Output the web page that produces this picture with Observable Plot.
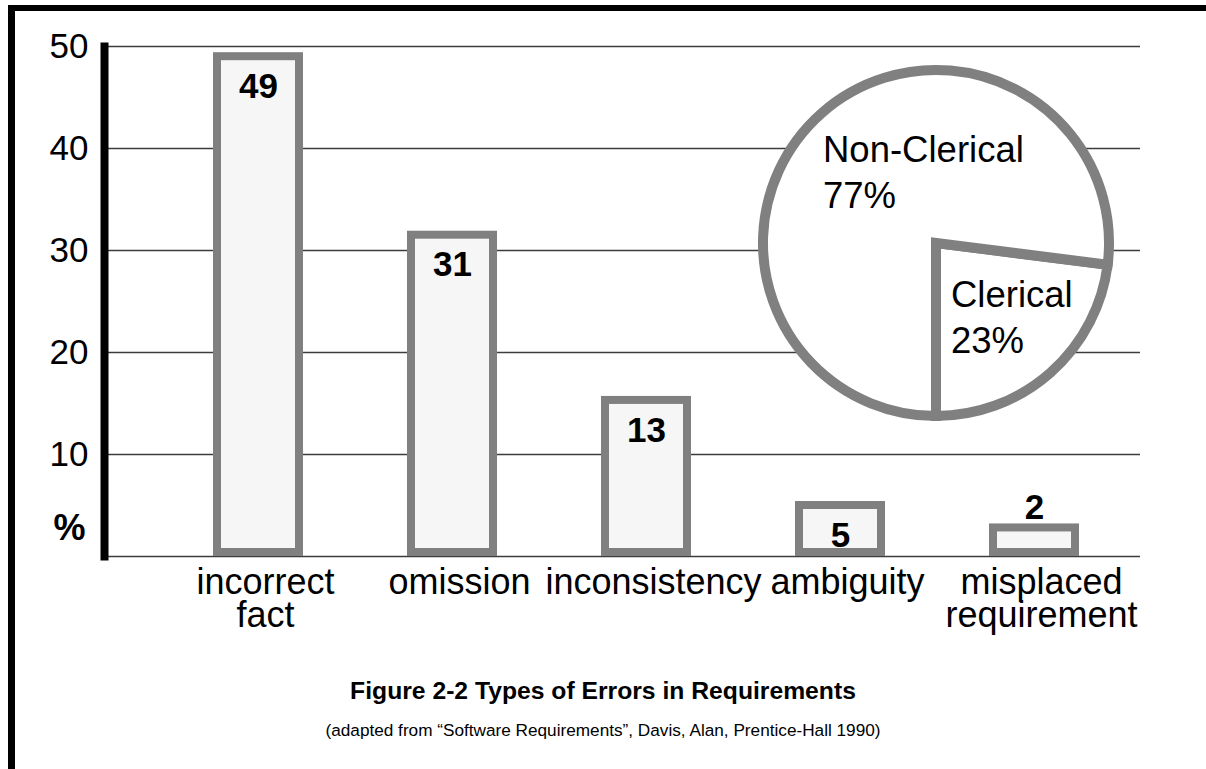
<!DOCTYPE html>
<html>
<head>
<meta charset="utf-8">
<script src="https://cdn.jsdelivr.net/npm/d3@7"></script>
<script src="https://cdn.jsdelivr.net/npm/@observablehq/plot@0.6"></script>
<style>
html, body { margin: 0; padding: 0; background: #fff; overflow: hidden; }
body { width: 1206px; height: 769px; position: relative; font-family: "Liberation Sans", Arial, sans-serif; color: #000; }
#chart { position: absolute; left: 0; top: 0; }
#border { position: absolute; left: 8px; top: 5px; right: 0; bottom: 0; border-top: 6px solid #000; border-left: 7px solid #000; pointer-events: none; }
#title { position: absolute; left: 0; width: 1206px; top: 677px; text-align: center; font-weight: bold; font-size: 24.7px; line-height: 28px; }
#caption { position: absolute; left: 0; width: 1206px; top: 719.5px; text-align: center; font-size: 17.2px; line-height: 20px; }
</style>
</head>
<body>
<div id="chart"></div>
<div id="border"></div>
<div id="title"></div>
<div id="caption"></div>
<script>
// ---- data ----
const categories = ["incorrect fact", "omission", "inconsistency", "ambiguity", "misplaced requirement"];
const tickLabels = ["incorrect\nfact", "omission", "inconsistency", "ambiguity", "misplaced\nrequirement"];
const barHeights = [49, 31.5, 15.3, 5.0, 2.8];          // bar heights as drawn in the figure
const valueLabels = ["49", "31", "13", "5", "2"];       // printed values
const yTicks = [10, 20, 30, 40, 50];
const gridTicks = [0, 10, 20, 30, 40, 50];
const pieLabels = ["Clerical", "Non-Clerical"];
const pieValues = [23, 77];
const titleText = "Figure 2-2 Types of Errors in Requirements";
const captionText = "(adapted from \u201cSoftware Requirements\u201d, Davis, Alan, Prentice-Hall 1990)";

// ---- layout ----
const PIE = { cx: 936, cy: 243, r: 173 };
const PIE_LABEL_OFFSETS = [{ dx: 15, dy: 64 }, { dx: -113, dy: -81 }];
const FONT = "'Liberation Sans', Arial, Helvetica, sans-serif";

const rows = categories.map((c, i) => ({ category: c, label: tickLabels[i], height: barHeights[i], value: valueLabels[i] }));
const pieData = pieLabels.map((l, i) => ({ label: l, value: pieValues[i], pct: pieValues[i] + "%" }));

function pieMark(index, scales, values, dimensions) {
  const g = d3.create("svg:g").attr("transform", `translate(${PIE.cx},${PIE.cy})`);
  const arcs = d3.pie().value(d => d.value).sort(null).startAngle(Math.PI).endAngle(-Math.PI)(pieData);
  const arc = d3.arc().innerRadius(0).outerRadius(PIE.r);
  g.selectAll("path").data(arcs).join("path")
    .attr("d", arc)
    .attr("fill", "#fff")
    .attr("stroke", "#808080")
    .attr("stroke-width", 10)
    .attr("stroke-linejoin", "miter");
  const t = g.selectAll("text").data(pieData).join("text")
    .attr("font-family", FONT)
    .attr("font-size", 36.5)
    .attr("text-anchor", "start")
    .attr("fill", "#000")
    .attr("x", (d, i) => PIE_LABEL_OFFSETS[i].dx)
    .attr("y", (d, i) => PIE_LABEL_OFFSETS[i].dy);
  t.append("tspan").attr("x", (d, i) => PIE_LABEL_OFFSETS[i].dx).text(d => d.label);
  t.append("tspan").attr("x", (d, i) => PIE_LABEL_OFFSETS[i].dx).attr("dy", 45.5).text(d => d.pct);
  return g.node();
}

const plot = Plot.plot({
  width: 1206,
  height: 640,
  marginTop: 46,
  marginBottom: 84,
  marginLeft: 104,
  marginRight: 66,
  style: { fontFamily: FONT, background: "transparent", color: "#000", overflow: "visible" },
  x: { domain: categories, range: [160, 1131], paddingInner: 0.578, paddingOuter: 0.289, axis: null },
  y: { domain: [0, 50] },
  marks: [
    Plot.ruleY(gridTicks, { stroke: "#3c3c3c", strokeWidth: 1.4 }),
    pieMark,
    Plot.barY(rows, { x: "category", y: "height", fill: "#f6f6f6", stroke: "#808080", strokeWidth: 8, insetBottom: 4 }),
    Plot.text(rows, { filter: d => d.height > 4, x: "category", y: "height", text: "value", dy: 30, lineAnchor: "middle", fontSize: 35, fontWeight: "bold", fill: "#000" }),
    Plot.text(rows, { filter: d => d.height <= 4, x: "category", y: "height", text: "value", dy: -20, lineAnchor: "middle", fontSize: 35, fontWeight: "bold", fill: "#000" }),
    Plot.text(rows, { x: "category", text: "label", frameAnchor: "bottom", lineAnchor: "top", dy: 14, dx: 7, fontSize: 36, lineHeight: 0.92, fill: "#000" }),
    Plot.axisY({ ticks: yTicks, tickSize: 0, tickPadding: 16, fontSize: 35, label: null }),
    Plot.text(["%"], { frameAnchor: "bottom-left", textAnchor: "end", lineAnchor: "middle", dx: -19, dy: -28, fontSize: 36, fontWeight: "bold", fill: "#000" }),
    Plot.frame({ anchor: "left", stroke: "#000", strokeWidth: 8, strokeLinecap: "square" })
  ]
});

document.getElementById("chart").appendChild(plot);
document.getElementById("title").textContent = titleText;
document.getElementById("caption").textContent = captionText;
</script>
</body>
</html>
